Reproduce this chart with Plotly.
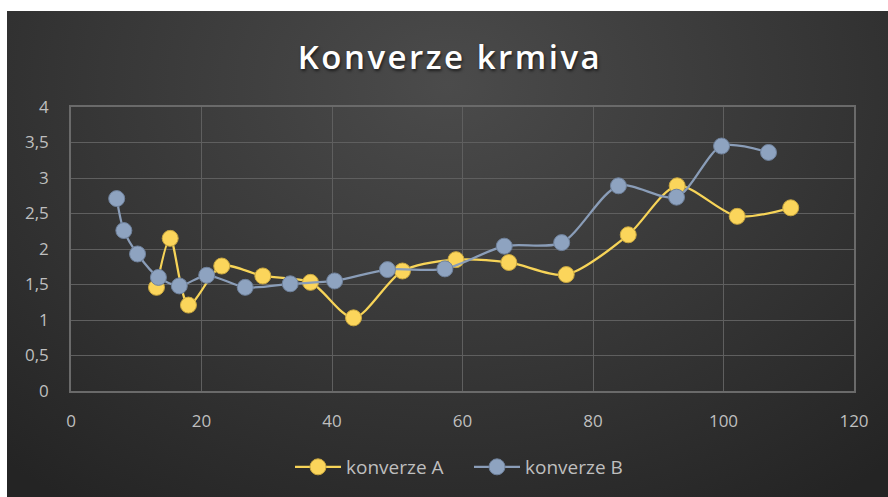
import base64
import plotly.graph_objects as go

# ---- data ----
a_x = [13.1, 15.2, 18.0, 23.1, 29.4, 36.7, 43.3, 50.8, 59.0, 67.1, 75.9, 85.4, 92.9, 102.1, 110.3]
a_y = [1.46, 2.15, 1.21, 1.76, 1.62, 1.53, 1.03, 1.69, 1.85, 1.81, 1.64, 2.20, 2.89, 2.46, 2.58]
b_x = [7.0, 8.1, 10.2, 13.4, 16.6, 20.8, 26.7, 33.6, 40.4, 48.5, 57.3, 66.4, 75.2, 83.9, 92.8, 99.7, 106.9]
b_y = [2.71, 2.26, 1.93, 1.60, 1.48, 1.63, 1.46, 1.51, 1.55, 1.71, 1.72, 2.04, 2.09, 2.89, 2.73, 3.45, 3.36]
x_ticks = [0, 20, 40, 60, 80, 100, 120]
y_ticks = [0, 0.5, 1, 1.5, 2, 2.5, 3, 3.5, 4]
title_text = "Konverze krmiva"
name_a = "konverze A"
name_b = "konverze B"

W, H = 888, 497
L, R, T, B = 71, 34, 107, 106
pw, ph = W - L - R, H - T - B

# radial gradient background (chart area from px 7..888, 11..497)
svg = (
    '<svg xmlns="http://www.w3.org/2000/svg" width="881" height="486" viewBox="0 0 881 486" preserveAspectRatio="none">'
    '<defs><radialGradient id="g" cx="0.5" cy="0.15" r="0.75" gradientTransform="translate(0.5 0.15) scale(1 1.4) translate(-0.5 -0.15)">'
    '<stop offset="0" stop-color="#4b4b4b"/><stop offset="0.55" stop-color="#363636"/>'
    '<stop offset="1" stop-color="#242424"/></radialGradient></defs>'
    '<rect width="881" height="486" fill="url(#g)"/></svg>'
)
src = "data:image/svg+xml;base64," + base64.b64encode(svg.encode()).decode()

def px_x(p):
    return (p - L) / pw

def px_y(p):
    return (H - B - p) / ph

fig = go.Figure()
fig.add_trace(go.Scatter(
    x=a_x, y=a_y, name=name_a, mode="lines+markers",
    line=dict(color="#F7D458", width=2.25, shape="spline", smoothing=0.8),
    marker=dict(size=16, color="#FBD55B", line=dict(color="#C9A73F", width=1)),
))
fig.add_trace(go.Scatter(
    x=b_x, y=b_y, name=name_b, mode="lines+markers",
    line=dict(color="#8A9DB8", width=2.25, shape="spline", smoothing=0.8),
    marker=dict(size=16, color="#8EA3C0", line=dict(color="#6F819B", width=1)),
))

grid = "#5f5f5f"
tickfont = dict(family="Open Sans, Noto Sans, sans-serif", size=17, color="#bfbfbf")
fig.update_layout(
    width=W, height=H,
    margin=dict(l=L, r=R, t=T, b=B),
    paper_bgcolor="white",
    plot_bgcolor="rgba(0,0,0,0)",
    separators=", ",
    images=[dict(source=src, xref="paper", yref="paper",
                 x=px_x(7), y=px_y(11), sizex=881 / pw, sizey=486 / ph,
                 xanchor="left", yanchor="top", sizing="stretch", layer="below")],
    title=dict(text=title_text, x=450 / W, xref="container", xanchor="center",
               y=1 - 57 / H, yref="container", yanchor="middle",
               font=dict(family="Open Sans, sans-serif", size=33, color="white", weight=600,
                         shadow="1px 2px 3px rgba(0,0,0,0.6)")),
    xaxis=dict(range=[0, 120], tickvals=x_ticks, showgrid=True, gridcolor=grid, gridwidth=1,
               zeroline=False, showline=True, linecolor="#6a6a6a", linewidth=1.5, mirror=True,
               tickfont=tickfont, ticks="", ticklabelstandoff=14),
    yaxis=dict(range=[0, 4], tickvals=y_ticks, showgrid=True, gridcolor=grid, gridwidth=1,
               zeroline=False, showline=True, linecolor="#6a6a6a", linewidth=1.5, mirror=True,
               tickfont=tickfont, ticks="", ticklabelstandoff=17),
    legend=dict(orientation="h", x=290 / W, xref="container", xanchor="left",
                y=1 - 467 / H, yref="container", yanchor="middle",
                font=dict(family="Open Sans, Noto Sans, sans-serif", size=19, color="#bfbfbf"),
                bgcolor="rgba(0,0,0,0)", itemwidth=46, entrywidth=118, entrywidthmode="pixels"),
    showlegend=True,
)

post = (
    "document.body.style.margin='0';"
    "var t=document.querySelector('.gtitle'); if(t){t.style.letterSpacing='2.5px';}"
)
fig.write_html("out.html", post_script=post, config={"displayModeBar": False})
